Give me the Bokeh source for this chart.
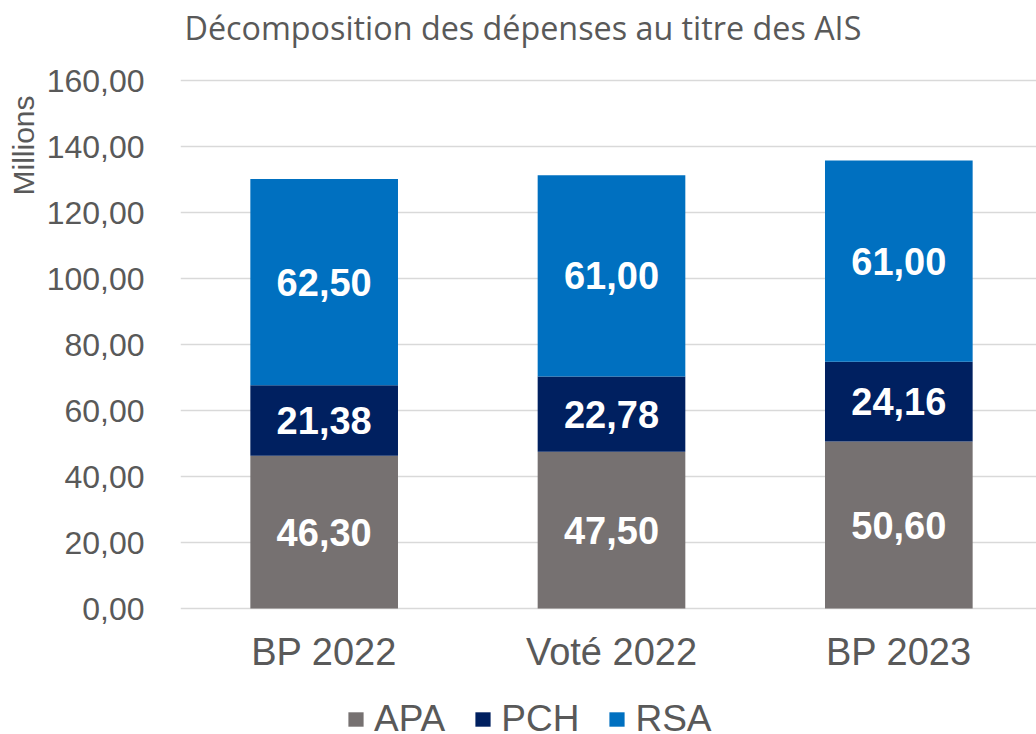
from bokeh.plotting import figure
from bokeh.models import (ColumnDataSource, Range1d, FixedTicker, Title, Legend, LegendItem)
from bokeh.core.properties import value
from bokeh.embed import file_html
from bokeh.resources import INLINE

# ---- data ----
categories = ["BP 2022", "Voté 2022", "BP 2023"]
series = ["APA", "PCH", "RSA"]
apa = [46.30, 47.50, 50.60]
pch = [21.38, 22.78, 24.16]
rsa = [62.50, 61.00, 61.00]
colors = ["#767171", "#002060", "#0070C0"]
y_ticks = [0, 20, 40, 60, 80, 100, 120, 140, 160]
title_text = "Décomposition des dépenses au titre des AIS"
y_label = "Millions"

def fr(v):
    return f"{v:.2f}".replace(".", ",")

xs = [i + 0.5 for i in range(len(categories))]
src = ColumnDataSource(dict(x=xs, APA=apa, PCH=pch, RSA=rsa))

PX = 3.3  # pixels per unit on the value axis
Y0 = 608  # pixel row of the zero line
p = figure(width=1036, height=734, output_backend="svg", toolbar_location=None,
           title=None,
           x_range=Range1d(0, 858 / 288),
           y_range=Range1d(-(734 - Y0) / PX, Y0 / PX),
           min_border_left=178, min_border_right=0, min_border_top=0,
           min_border_bottom=0)
p.outline_line_color = None
p.background_fill_color = "white"
p.border_fill_color = "white"

rs = p.vbar_stack(series, x="x", width=148 / 288, source=src, color=colors,
                  line_color=None)

# data labels
lx, ly, lt = [], [], []
for i in range(len(categories)):
    base = 0
    for vals in (apa, pch, rsa):
        v = vals[i]
        lx.append(xs[i]); ly.append(base + v / 2); lt.append(fr(v))
        base += v
p.text(x=lx, y=ly, text=lt, text_color="white", text_font=value("Liberation Sans"),
       text_font_style="bold", text_font_size="38px", text_align="center",
       text_baseline="middle")

# category labels under the bars
p.text(x=xs, y=[-(651.5 - Y0) / PX] * len(xs), text=categories, text_color="#595959",
       text_font=value("Liberation Sans"), text_font_size="38px",
       text_align="center", text_baseline="middle")

# chart title
p.text(x=[(182 - 178) / 288], y=[(Y0 - 26) / PX], text=[title_text],
       text_color="#595959", text_font=value("Open Sans"), text_font_size="32.3px",
       text_align="left", text_baseline="middle")

# axes
p.yaxis.ticker = FixedTicker(ticks=y_ticks)
p.yaxis.major_label_overrides = {t: fr(t) for t in y_ticks}
p.yaxis.axis_line_color = None
p.yaxis.major_tick_line_color = None
p.yaxis.minor_tick_line_color = None
p.yaxis.major_label_text_font = "Liberation Sans"
p.yaxis.major_label_text_font_size = "32px"
p.yaxis.major_label_text_color = "#595959"
p.yaxis.major_label_standoff = 30
p.xaxis.visible = False

p.xgrid.grid_line_color = None
p.ygrid.ticker = FixedTicker(ticks=y_ticks)
p.ygrid.grid_line_color = "#D9D9D9"
p.ygrid.grid_line_width = 1.5

# y axis label as a side title
p.add_layout(Title(text=y_label, align="right", offset=95, text_font="Liberation Sans",
                   text_font_size="30px", text_font_style="normal",
                   text_color="#595959", standoff=8), "left")

legend = Legend(items=[LegendItem(label=s, renderers=[r]) for s, r in zip(series, rs)],
                orientation="horizontal", location=(166, -6),
                glyph_width=19, glyph_height=18, label_standoff=9, spacing=28,
                padding=0, margin=0, border_line_color=None,
                background_fill_alpha=0,
                label_text_font="Liberation Sans", label_text_font_size="37px",
                label_text_color="#595959")
p.add_layout(legend, "center")

open("out.html", "w").write(file_html(p, INLINE))
